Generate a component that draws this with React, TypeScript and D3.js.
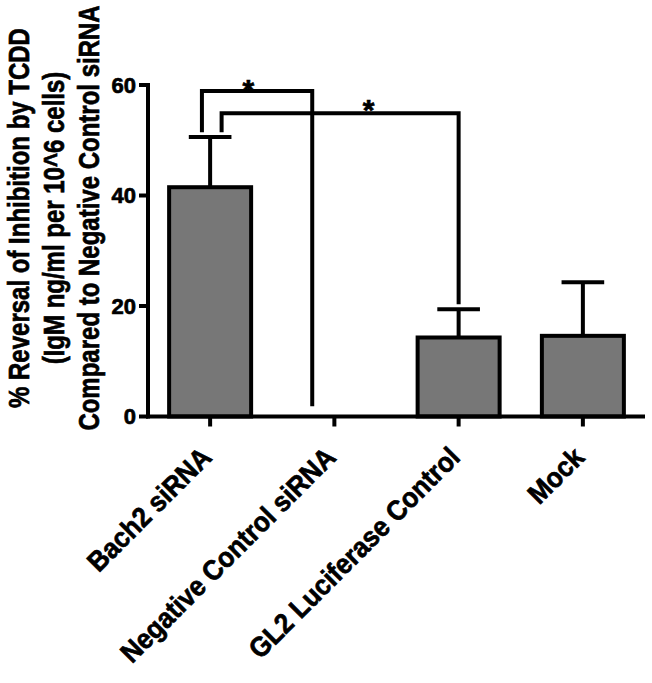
import React from "react";
import * as d3 from "d3";

const categories = ["Bach2 siRNA", "Negative Control siRNA", "GL2 Luciferase Control", "Mock"];
const means = [41.5, 0, 14.3, 14.6];
const sems = [9.1, 0, 5.1, 9.7];
const yTicks = [0, 20, 40, 60];
const yTitleLines = [
  "% Reversal of Inhibition by TCDD",
  "(IgM ng/ml per 10^6 cells)",
  "Compared to Negative Control siRNA",
];
// significance brackets: from/to category index, bracket top value, leg end values
const bracketFrom = [0, 0];
const bracketTo = [1, 2];
const bracketTop = [58.9, 54.9];
const bracketFromEnd = [51.8, 51.8];
const bracketToEnd = [2.2, 20.7];
const bracketLabels = ["*", "*"];

const W = 652;
const H = 683;
const FONT = "'Liberation Sans', Arial, Helvetica, sans-serif";

export default function App() {
  const x = d3.scaleBand<string>().domain(categories).range([148, 645]).paddingInner(0.34).paddingOuter(0.17);
  const y = d3.scaleLinear().domain([0, 60]).range([416.5, 85]);
  const bw = x.bandwidth();
  const cx = (i: number) => (x(categories[i]) as number) + bw / 2;
  const sw = 4;
  const ts = { stroke: "#000", strokeWidth: 0.7 };

  // bracket leg x offsets (relative to band centre, fraction of bandwidth)
  const fromOff = [-0.1, 0.14];
  const toOff = [-0.27, 0];
  const labelFrac = [0.42, 0.62];
  const labelDy = [9, 6.5];
  const titleX = [28.5, 63.5, 99];

  return (
    <svg width={W} height={H} style={{ position: "absolute", left: 0, top: 0, background: "#fff" }} fontFamily={FONT} fontWeight="bold">
      <rect width={W} height={H} fill="#fff" />
      {/* y title */}
      {yTitleLines.map((t, i) => (
        <text key={t} transform={`translate(${titleX[i]},218) rotate(-90) scale(0.8,1)`} textAnchor="middle" fontSize={30} fill="#000" {...ts}>
          {t}
        </text>
      ))}
      {/* bars */}
      {means.map((m, i) =>
        m > 0 ? (
          <rect key={i} x={x(categories[i])} y={y(m)} width={bw} height={y(0) - y(m)} fill="#777777" stroke="#000" strokeWidth={sw} />
        ) : null
      )}
      {/* error bars */}
      {means.map((m, i) =>
        sems[i] > 0 ? (
          <g key={i} stroke="#000" strokeWidth={sw}>
            <line x1={cx(i)} x2={cx(i)} y1={y(m)} y2={y(m + sems[i])} />
            <line x1={cx(i) - bw * 0.26} x2={cx(i) + bw * 0.26} y1={y(m + sems[i])} y2={y(m + sems[i])} />
          </g>
        ) : null
      )}
      {/* brackets */}
      {bracketFrom.map((f, k) => {
        const x1 = cx(f) + fromOff[k] * bw;
        const x2 = cx(bracketTo[k]) + toOff[k] * bw;
        const yt = y(bracketTop[k]);
        return (
          <g key={k}>
            <path
              d={`M${x1},${y(bracketFromEnd[k])}V${yt}H${x2}V${y(bracketToEnd[k])}`}
              fill="none"
              stroke="#000"
              strokeWidth={sw}
              strokeLinejoin="miter"
              strokeLinecap="square"
            />
            <text x={x1 + (x2 - x1) * labelFrac[k]} y={yt + labelDy[k]} textAnchor="middle" fontSize={30} fill="#000" {...ts}>
              {bracketLabels[k]}
            </text>
          </g>
        );
      })}
      {/* y axis */}
      <line x1={148} x2={148} y1={y(60) - 2} y2={y(0) + 2} stroke="#000" strokeWidth={sw} />
      {yTicks.map((t) => (
        <g key={t}>
          <line x1={139} x2={148} y1={y(t)} y2={y(t)} stroke="#000" strokeWidth={sw} />
          <text x={136} y={y(t)} dy="0.35em" textAnchor="end" fontSize={22} fill="#000" {...ts}>
            {t}
          </text>
        </g>
      ))}
      {/* x axis */}
      <line x1={146} x2={645} y1={y(0)} y2={y(0)} stroke="#000" strokeWidth={sw} />
      {categories.map((c, i) => (
        <g key={c}>
          <line x1={cx(i)} x2={cx(i)} y1={y(0)} y2={y(0) + 10} stroke="#000" strokeWidth={sw} />
          <text transform={`translate(${cx(i) + 3},459) rotate(-45) scale(0.92,1)`} textAnchor="end" fontSize={28} fill="#000" {...ts}>
            {c}
          </text>
        </g>
      ))}
    </svg>
  );
}
